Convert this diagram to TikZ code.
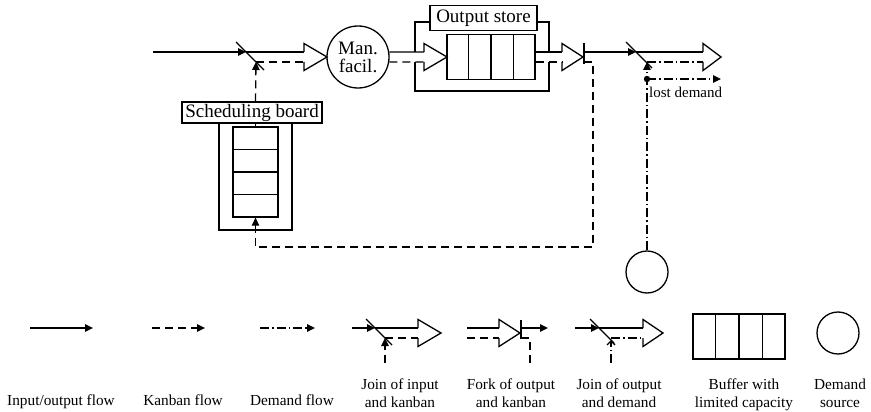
\documentclass[tikz,border=0pt]{standalone}
\usepackage{fontspec}
\setmainfont{Liberation Serif}
\usetikzlibrary{arrows.meta,calc}
\newcommand\dblhead[3]{\draw[ln, line join=miter] (#1,#3-5) -- (#1,#3-13.5) -- (#2,#3) -- (#1,#3+13.5) -- (#1,#3+5);}
\begin{document}
\begin{tikzpicture}[x=1pt,y=-1pt,
  ln/.style={line width=1.3pt},
  kb/.style={line width=1.3pt, dash pattern=on 8pt off 5pt},
  dm/.style={line width=1.3pt, dash pattern=on 9pt off 3pt on 1.5pt off 3pt},
  tipf/.style={-{Triangle[length=8pt,width=7.5pt]}},
  lbox/.style={draw, line width=1.3pt, inner sep=0pt, font=\fontsize{19}{19}\selectfont},
  leg/.style={font=\fontsize{15.3}{18}\selectfont, anchor=base, inner sep=0pt},
  buf/.style={draw, line width=1.3pt, inner sep=0pt},
  circ/.style={draw, circle, line width=1.3pt, inner sep=0pt}]
\useasboundingbox (0,0) rectangle (871,412);

% ---------- main diagram ----------
\coordinate (in) at (153,52);
\coordinate (j1) at (246,52);
\coordinate (k1) at (256,62);
\draw[ln] (236,42) -- (264,70);
\draw[ln,tipf] (in) -- (j1);

% scheduling board
\node[lbox, minimum width=140pt, minimum height=21pt] (sb) at (252,112.5) {Scheduling board};
\node[buf, minimum width=45pt, minimum height=90pt] (sbb) at (255.5,172) {};
\foreach \f in {0.25,0.5,0.75}
  \draw[ln] ($(sbb.north west)!\f!(sbb.south west)$) -- ($(sbb.north east)!\f!(sbb.south east)$);
\draw[ln] (219,123) -- (219,230) -- (292,230) -- (292,123);
\draw[ln] (sbb.north |- sb.south) -- (sbb.north);
\draw[kb,tipf] (sbb.north |- sb.north) -- (k1);

% hollow arrow into manufacturing facility
\node[circ, minimum size=62pt, align=center, font=\fontsize{19}{18}\selectfont] (man) at (358,57) {Man.\\facil.};
\draw[ln] (j1) -- (304,52);
\draw[kb] (k1) -- (304,62);
\dblhead{304}{327}{57}

% output store
\node[buf, minimum width=88pt, minimum height=45pt] (ob) at (491,57) {};
\foreach \f in {0.25,0.5,0.75}
  \draw[ln] ($(ob.north west)!\f!(ob.north east)$) -- ($(ob.south west)!\f!(ob.south east)$);
\node[lbox, minimum width=107pt, minimum height=25pt] (os) at (483.5,18) {Output store};
\draw[ln] (man.9.3) -- (424,52);
\draw[kb] (man.-9.3) -- (424,62);
\dblhead{424}{447}{57}
\draw[ln] (os.west |- 0,22) -- (415,22) -- (415,52);
\draw[ln] (415,62) -- (415,91) -- (549,91) -- (549,62);
\draw[ln] (549,52) -- (549,22) -- (os.east |- 0,22);

% out of output store, fork
\draw[ln] (ob.east |- 0,52) -- (562,52);
\draw[kb] (ob.east |- 0,62) -- (562,62);
\dblhead{562}{583}{57}
\draw[ln] (584,43) -- (584,64);
\coordinate (f1) at (584,52);
\coordinate (j2) at (636,52);
\coordinate (k2) at (647,62);
\draw[ln,tipf] (f1) -- (j2);
\draw[kb,tipf] (584,62) -- (593,62) -- (593,247) -- (sbb.south |- 0,247) -- (sbb.south);

% join of output and demand
\draw[ln] (626,42) -- (652,68);
\node[circ, minimum size=42pt] (ds) at (647,272) {};
\coordinate (dot) at (647,79);
\draw[dm,tipf] (ds.north) -- (k2);
\fill (dot) circle (3.2pt);
\coordinate (lost) at (721,79);
\draw[dm,tipf] (dot) -- (lost);
\node[anchor=west, font=\fontsize{15}{18}\selectfont, inner sep=0pt] (ld) at (649,92) {lost demand};
\draw[ln] (j2) -- (703,52);
\draw[dm] (k2) -- (703,62);
\dblhead{703}{721}{57}

% ---------- legend ----------
\coordinate (a1) at (30,328);  \coordinate (a2) at (93,328);
\draw[ln,tipf] (a1) -- (a2);
\coordinate (b1) at (152,328); \coordinate (b2) at (205,328);
\draw[kb,tipf] (b1) -- (b2);
\coordinate (c1) at (260,328); \coordinate (c2) at (315,328);
\draw[dm,tipf] (c1) -- (c2);

% join of input and kanban
\coordinate (d1) at (352,328); \coordinate (d2) at (375,328);
\coordinate (d3) at (385,363); \coordinate (d4) at (385,338);
\draw[ln,tipf] (d1) -- (d2);
\draw[ln] (366,319) -- (392,345);
\draw[kb,tipf] (d3) -- (d4);
\draw[ln] (d2) -- (418,328);
\draw[kb] (d4) -- (418,338);
\dblhead{418}{441}{333}

% fork of output and kanban
\draw[ln] (467,328) -- (499,328);
\draw[kb] (467,338) -- (499,338);
\dblhead{499}{520}{333}
\draw[ln] (521,320) -- (521,339);
\coordinate (e1) at (521,328); \coordinate (e2) at (548,328);
\draw[ln,tipf] (e1) -- (e2);
\draw[kb] (521,338) -- (530,338) -- (530,363);

% join of output and demand
\coordinate (g1) at (575,328); \coordinate (g2) at (599,328);
\coordinate (g3) at (611,363); \coordinate (g4) at (611,340);
\draw[ln,tipf] (g1) -- (g2);
\draw[ln] (590,319) -- (614,343);
\draw[dm,-{Straight Barb[length=4pt,width=8pt]}] (g3) -- (g4);
\draw[ln] (g2) -- (643,328);
\draw[dm] (611,338) -- (643,338);
\dblhead{643}{663}{333}

% buffer and demand source
\node[buf, minimum width=92pt, minimum height=45pt] (lb) at (739,336.5) {};
\foreach \f in {0.25,0.5,0.75}
  \draw[ln] ($(lb.north west)!\f!(lb.north east)$) -- ($(lb.south west)!\f!(lb.south east)$);
\node[circ, minimum size=42pt] (lds) at (838,333) {};

% legend labels
\node[leg] at (61,405) {Input/output flow};
\node[leg] at (183,405) {Kanban flow};
\node[leg] at (292,405) {Demand flow};
\node[leg] at (400,389) {Join of input};
\node[leg] at (400,407) {and kanban};
\node[leg] at (511,389) {Fork of output};
\node[leg] at (511,407) {and kanban};
\node[leg] at (619,389) {Join of output};
\node[leg] at (619,407) {and demand};
\node[leg] at (744,389) {Buffer with};
\node[leg] at (744,407) {limited capacity};
\node[leg] at (840,389) {Demand};
\node[leg] at (840,407) {source};
\end{tikzpicture}
\end{document}
